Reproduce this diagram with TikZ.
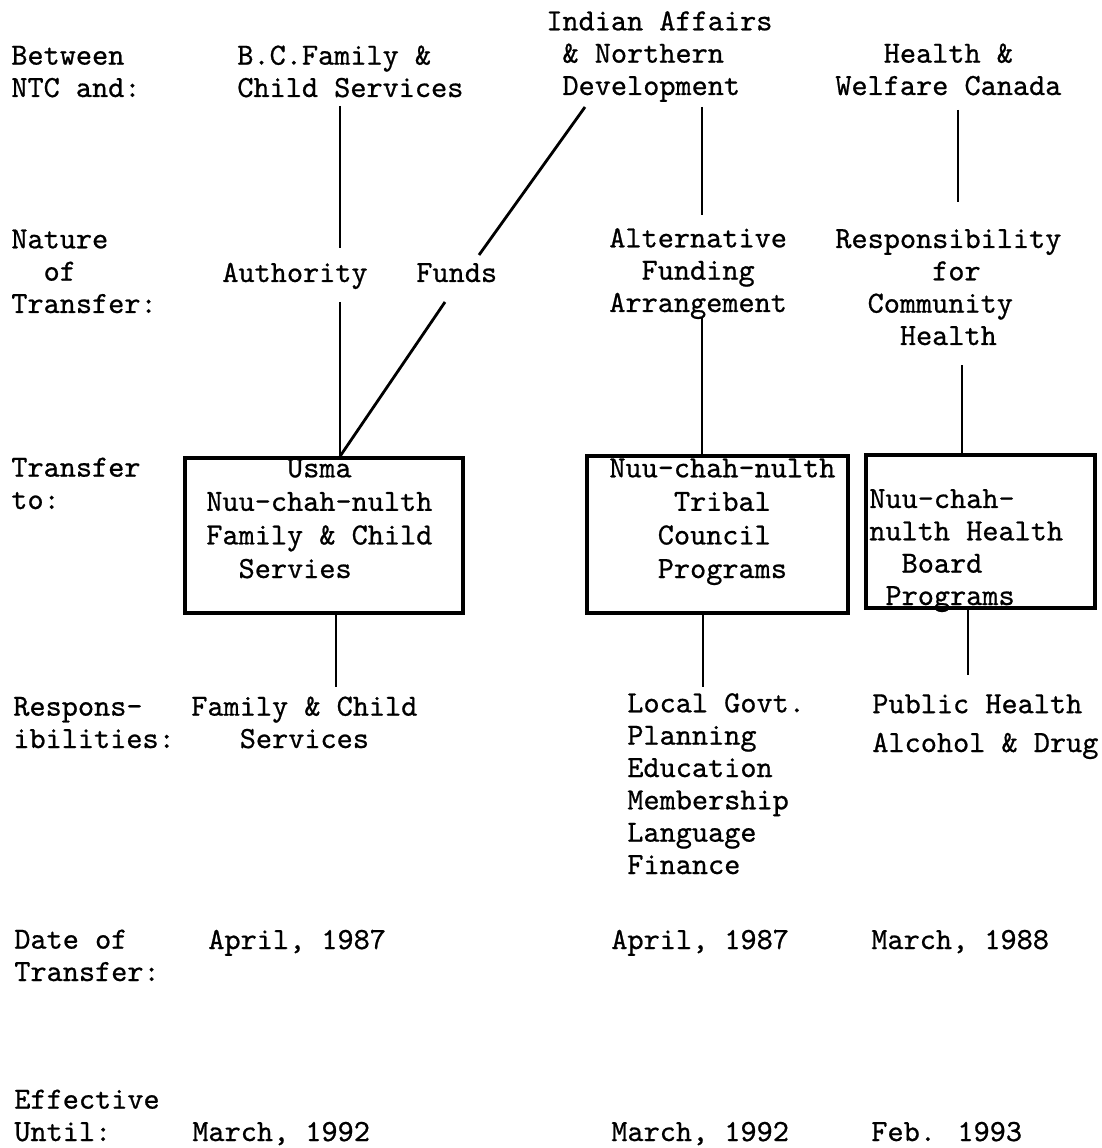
\documentclass[tikz,border=0pt]{standalone}
\usepackage{fontspec}
\newfontfamily\typewr{lmmono10-regular.otf}[FakeBold=0.7]
\tikzset{
  lbl/.style={anchor=base west, inner sep=0pt, align=left,
    font={\typewr\fontsize{17.5pt}{18.4pt}\selectfont}},
  boxtxt/.style={lbl, font={\typewr\fontsize{17.5pt}{19.1pt}\selectfont}},
  box/.style={draw, line width=1.9pt, inner sep=0pt},
  link/.style={line width=1.6pt}
}
\begin{document}
\begin{tikzpicture}[x=0.2mm, y=-0.2mm]
\useasboundingbox (0,0) rectangle (1101,1148);
\node [lbl] (between) at (11,97) {Between\\NTC and:};
\node [lbl] (bcfcs) at (237,97) {B.C.Family \&\\Child Services};
\node [lbl] (iand) at (546,95) {Indian Affairs\\~\& Northern\\~Development};
\node [lbl] (hwc) at (835,95) {~~~Health \&\\Welfare Canada};

\node [lbl] (nature) at (11,313) {Nature\\~~of\\Transfer:};
\node [lbl] (auth) at (222,282) {Authority};
\node [lbl] (funds) at (416,282) {Funds};
\node [lbl] (afa) at (609,312) {Alternative\\~~Funding\\Arrangement};
\node [lbl] (rch) at (835,345) {Responsibility\\~~~~~~for\\~~Community\\~~~~Health};

\node [lbl] (transferto) at (11,509) {Transfer\\to:};
\node [box, minimum width=55.6mm, minimum height=31mm] (usmabox) at (324,535.5) {};
\node [boxtxt] (usma) at (206,578) {~~~~~Usma\\Nuu-chah-nulth\\Family \& Child\\~~Servies};
\node [box, minimum width=52.2mm, minimum height=31.4mm] (ntcbox) at (717.5,534.5) {};
\node [boxtxt] (ntcprog) at (609,578) {Nuu-chah-nulth\\~~~~Tribal\\~~~Council\\~~~Programs};
\node [box, minimum width=45.8mm, minimum height=30.6mm] (nhbbox) at (980.5,531.5) {};
\node [lbl] (nhbprog) at (869,605) {Nuu-chah-\\nulth Health\\~~Board\\~Programs};

\node [lbl] (resp) at (13,748) {Respons-\\ibilities:};
\node [lbl] (fcsresp) at (191,748) {Family \& Child\\~~~Services};
\node [lbl] (ntcresp) at (627,874) {Local Govt.\\Planning\\Education\\Membership\\Language\\Finance};
\node [lbl] (nhbresp) at (872,752) {Public Health\\[3.7pt]Alcohol \& Drug};

\node [lbl] (dateof) at (14,981) {Date of\\Transfer:};
\node [lbl] (fcsdate) at (208,949) {April, 1987};
\node [lbl] (ntcdate) at (611,949) {April, 1987};
\node [lbl] (nhbdate) at (871,949) {March, 1988};
\node [lbl] (effective) at (14,1141) {Effective\\Until:};
\node [lbl] (fcsuntil) at (192,1141) {March, 1992};
\node [lbl] (ntcuntil) at (611,1141) {March, 1992};
\node [lbl] (nhbuntil) at (871,1141) {Feb. 1993};

\coordinate (bctop) at (340,106);
\coordinate (bcauth) at (340,248);
\coordinate (authbox) at (340,302);
\coordinate (iafund) at (585,107);
\coordinate (fundin) at (479,255);
\coordinate (fundbox) at (445,302);
\coordinate (iatop) at (702,107);
\coordinate (iaafa) at (702,215);
\coordinate (afabox) at (702,318);
\coordinate (hwtop) at (958,110);
\coordinate (hwrch) at (958,202);
\coordinate (rchbox) at (962,365);
\draw [link] (bctop) -- (bcauth);
\draw [link] (authbox) -- (authbox |- usmabox.north);
\draw [link] (iafund) -- (fundin);
\draw [link] (fundbox) -- (authbox |- usmabox.north);
\draw [link] (iatop) -- (iaafa);
\draw [link] (afabox) -- (afabox |- ntcbox.north);
\draw [link] (hwtop) -- (hwrch);
\draw [link] (rchbox) -- (rchbox |- nhbbox.north);
\foreach \b/\x/\y in {usmabox/336/687, ntcbox/703/687, nhbbox/968/675}
  \draw [link] (\x,0 |- \b.south) -- (\x,\y);
\end{tikzpicture}
\end{document}
